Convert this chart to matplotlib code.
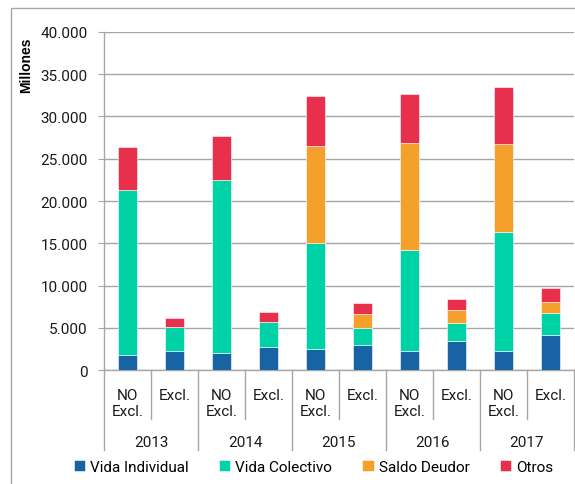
#!/usr/bin/env python3
"""Primas por ramo: NO Excl. vs Excl., 2013-2017."""
import matplotlib
matplotlib.use('Agg')
import matplotlib.pyplot as plt
from matplotlib.ticker import FuncFormatter, MultipleLocator
from matplotlib.patches import Rectangle
import matplotlib.transforms as mtransforms

plt.rcParams['font.family'] = ['Roboto', 'DejaVu Sans']

years = ['2013', '2014', '2015', '2016', '2017']
categorias = ['NO\nExcl.', 'Excl.'] * 5
series = ['Vida Individual', 'Vida Colectivo', 'Saldo Deudor', 'Otros']
colores = ['#1763A3', '#00D2A8', '#F5A02B', '#E8304D']

# valores en millones, orden: 2013 NO, 2013 Excl, 2014 NO, ...
vida_individual = [1750, 2300, 2050, 2750, 2500, 3000, 2200, 3450, 2300, 4200]
vida_colectivo = [19550, 2750, 20400, 2900, 12500, 2000, 12050, 2100, 14000, 2550]
saldo_deudor = [0, 0, 0, 0, 11550, 1600, 12600, 1600, 10400, 1300]
otros = [5100, 1100, 5250, 1250, 5850, 1300, 5800, 1300, 6800, 1650]

fig = plt.figure(figsize=(5.75, 4.85), dpi=100)
ax = fig.add_axes([0.181, 0.235, 0.817, 0.697])

x = list(range(len(categorias)))
bottom = [0] * len(x)
for nombre, vals, c in zip(series, [vida_individual, vida_colectivo, saldo_deudor, otros], colores):
    ax.bar(x, vals, bottom=bottom, width=0.41, color=c, label=nombre,
           edgecolor='white', linewidth=0.4, zorder=3)
    bottom = [b + v for b, v in zip(bottom, vals)]

ax.set_xlim(-0.5, len(x) - 0.5)
ax.set_ylim(0, 40000)
ax.yaxis.set_major_locator(MultipleLocator(5000))
ax.yaxis.set_major_formatter(FuncFormatter(lambda v, p: f'{int(v):,}'.replace(',', '.')))
ax.grid(True, axis='y', color='#A6A6A6', linewidth=1.0, zorder=0)
for s in ['top', 'right']:
    ax.spines[s].set_visible(False)
for s in ['left', 'bottom']:
    ax.spines[s].set_color('#A6A6A6')
    ax.spines[s].set_linewidth(1.0)
ax.tick_params(axis='y', length=4, color='#A6A6A6', labelsize=11, pad=8, labelcolor='#1a1a1a')
ax.set_xticks(x)
ax.set_xticklabels(categorias, fontsize=11, linespacing=1.2, color='#1a1a1a')
ax.tick_params(axis='x', length=0, pad=13)
ax.set_ylabel('Millones', fontsize=10, fontweight='bold',
              family=['Liberation Sans', 'DejaVu Sans'])
ax.yaxis.set_label_coords(-0.15, 0.905)

# separadores del eje x de dos niveles
trans = mtransforms.blended_transform_factory(ax.transData, ax.transAxes)
for i in range(len(x) + 1):
    pos = i - 0.5
    largo = -0.237 if i % 2 == 0 else -0.145
    ax.plot([pos, pos], [0, largo], transform=trans, color='#A6A6A6',
            linewidth=1.0, clip_on=False)
for j, y in enumerate(years):
    ax.text(2 * j + 0.5, -0.212, y, transform=trans, ha='center', va='center',
            fontsize=11, color='#1a1a1a')

# marco exterior del gráfico
fig.patches.append(Rectangle((11 / 575, -0.1), 1.2, 1 - 9 / 485 + 0.1,
                             transform=fig.transFigure, fill=False,
                             edgecolor='#A6A6A6', linewidth=1.0))

fig.legend(loc='center', bbox_to_anchor=(0.545, 0.035), ncol=4, frameon=False,
           fontsize=11, handlelength=0.75, handleheight=0.75, handletextpad=0.3,
           columnspacing=2.0)

plt.savefig('out.png', dpi=100)
